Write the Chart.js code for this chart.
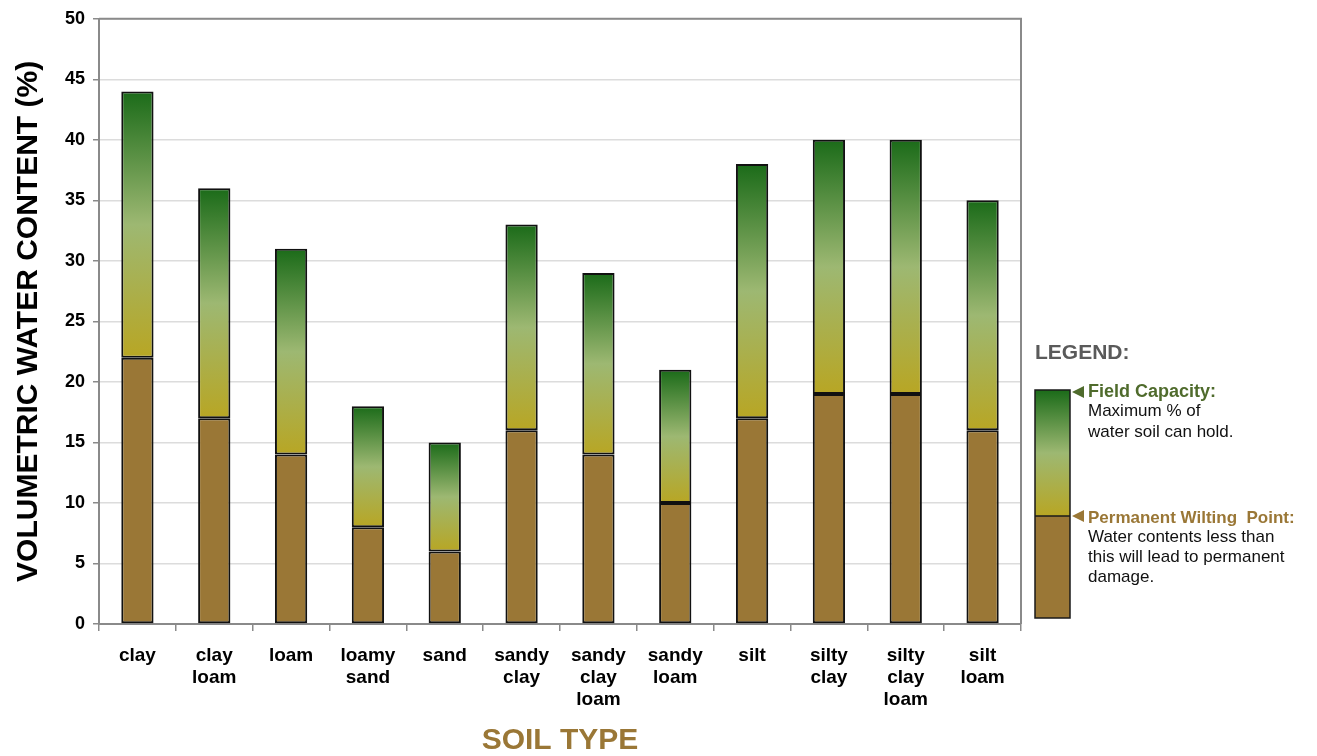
<!DOCTYPE html>
<html>
<head>
<meta charset="utf-8">
<script src="https://cdn.jsdelivr.net/npm/chart.js@4"></script>
<style>
  html, body { margin: 0; padding: 0; background: #fff; }
  #wrap { width: 1317px; height: 756px; position: relative; }
</style>
</head>
<body>
<div id="wrap"><canvas id="c" width="1317" height="756"></canvas></div>
<script>
// Soil types along the x axis (multi-line labels)
const soilTypes = [
  ['clay'], ['clay', 'loam'], ['loam'], ['loamy', 'sand'], ['sand'],
  ['sandy', 'clay'], ['sandy', 'clay', 'loam'], ['sandy', 'loam'],
  ['silt'], ['silty', 'clay'], ['silty', 'clay', 'loam'], ['silt', 'loam']
];
// Volumetric water content (%) at the permanent wilting point
const wiltingPoint = [22, 17, 14, 8, 6, 16, 14, 10, 17, 19, 19, 16];
// Volumetric water content (%) at field capacity
const fieldCapacity = [44, 36, 31, 18, 15, 33, 29, 21, 38, 40, 40, 35];
// Available water = field capacity minus wilting point (stacked on top)
const availableWater = fieldCapacity.map((fc, i) => fc - wiltingPoint[i]);

const yTicks = [0, 5, 10, 15, 20, 25, 30, 35, 40, 45, 50];

const BROWN = '#9a7736';
const FONT = "'Liberation Sans', Arial, sans-serif";

function waterGradient(ctx2d, bottom, top) {
  const g = ctx2d.createLinearGradient(0, bottom, 0, top);
  g.addColorStop(0, '#b8a624');
  g.addColorStop(0.5, '#9db872');
  g.addColorStop(1, '#1b6b19');
  return g;
}

// Draws the frame around the plot and the custom legend on the right
const decorations = {
  id: 'decorations',
  afterDraw(chart) {
    const { ctx, chartArea: a } = chart;
    ctx.save();
    // top and right frame lines
    ctx.strokeStyle = '#8a8a8a';
    ctx.lineWidth = 2;
    ctx.beginPath();
    ctx.moveTo(a.left, a.top);
    ctx.lineTo(a.right, a.top);
    ctx.lineTo(a.right, a.bottom);
    ctx.stroke();

    // legend heading
    ctx.fillStyle = '#5a5a5a';
    ctx.font = `bold 21px ${FONT}`;
    ctx.textBaseline = 'middle';
    ctx.textAlign = 'left';
    ctx.fillText('LEGEND:', 1035, 353);

    // legend bar
    const bx = 1035, bw = 35, bTop = 390, bMid = 516, bBot = 618;
    ctx.fillStyle = BROWN;
    ctx.fillRect(bx, bMid, bw, bBot - bMid);
    ctx.fillStyle = waterGradient(ctx, bMid, bTop);
    ctx.fillRect(bx, bTop, bw, bMid - bTop);
    ctx.strokeStyle = '#1a1a1a';
    ctx.lineWidth = 1.5;
    ctx.strokeRect(bx, bTop, bw, bBot - bTop);
    ctx.beginPath();
    ctx.moveTo(bx, bMid);
    ctx.lineTo(bx + bw, bMid);
    ctx.stroke();

    // pointer triangles
    function tri(y, color) {
      ctx.fillStyle = color;
      ctx.beginPath();
      ctx.moveTo(1072, y);
      ctx.lineTo(1084, y - 6);
      ctx.lineTo(1084, y + 6);
      ctx.closePath();
      ctx.fill();
    }
    tri(392, '#4f6b2c');
    tri(516, BROWN);

    // legend texts
    ctx.font = `bold 18px ${FONT}`;
    ctx.fillStyle = '#4f6b2c';
    ctx.fillText('Field Capacity:', 1088, 392);
    ctx.font = `bold 17px ${FONT}`;
    ctx.fillStyle = BROWN;
    ctx.fillText('Permanent Wilting  Point:', 1088, 518);

    ctx.font = `17px ${FONT}`;
    ctx.fillStyle = '#111';
    ctx.fillText('Maximum % of', 1088, 411);
    ctx.fillText('water soil can hold.', 1088, 432);
    ctx.fillText('Water contents less than', 1088, 537);
    ctx.fillText('this will lead to permanent', 1088, 557);
    ctx.fillText('damage.', 1088, 577);
    ctx.restore();
  }
};

new Chart(document.getElementById('c'), {
  type: 'bar',
  data: {
    labels: soilTypes,
    datasets: [
      {
        label: 'Permanent Wilting Point',
        data: wiltingPoint,
        backgroundColor: BROWN,
        borderColor: '#111',
        borderWidth: 2,
        borderSkipped: false
      },
      {
        label: 'Field Capacity',
        data: availableWater,
        backgroundColor: (c) => {
          const chart = c.chart;
          const y = chart.scales && chart.scales.y;
          if (c.type !== 'data' || !y || !chart.chartArea) return '#9db872';
          const i = c.dataIndex;
          return waterGradient(chart.ctx,
            y.getPixelForValue(wiltingPoint[i]),
            y.getPixelForValue(fieldCapacity[i]));
        },
        borderColor: '#111',
        borderWidth: 2,
        borderSkipped: false
      }
    ]
  },
  options: {
    responsive: false,
    animation: false,
    devicePixelRatio: 1,
    layout: { padding: { top: 17, right: 296, left: 0, bottom: 0 } },
    datasets: { bar: { barPercentage: 0.42, categoryPercentage: 1 } },
    plugins: {
      legend: { display: false },
      tooltip: { enabled: false }
    },
    scales: {
      x: {
        stacked: true,
        offset: true,
        border: { color: '#8a8a8a', width: 2 },
        grid: { offset: true, drawOnChartArea: false, color: '#8a8a8a', tickLength: 7, lineWidth: 1.5 },
        ticks: {
          color: '#000',
          font: { family: FONT, size: 19, weight: 'bold', lineHeight: 1.15 },
          padding: 14,
          maxRotation: 0,
          autoSkip: false
        },
        title: {
          display: true,
          text: 'SOIL TYPE',
          color: BROWN,
          font: { family: FONT, size: 30, weight: 'bold', lineHeight: 1.0 },
          padding: { top: 0, bottom: 0 }
        },
        afterFit(s) { s.height = 132; }
      },
      y: {
        stacked: true,
        min: 0,
        max: 50,
        afterBuildTicks(s) { s.ticks = yTicks.map(v => ({ value: v })); },
        border: { color: '#8a8a8a', width: 2 },
        grid: { color: '#dcdcdc', lineWidth: 1.5, tickColor: '#8a8a8a', tickLength: 6 },
        ticks: {
          color: '#000',
          font: { family: FONT, size: 18, weight: 'bold' },
          padding: 8
        },
        title: {
          display: true,
          text: 'VOLUMETRIC WATER CONTENT (%)',
          color: '#000',
          font: { family: FONT, size: 30, weight: 'bold', lineHeight: 1.2 },
          padding: { top: 11, bottom: 0 }
        },
        afterFit(s) { s.width = 99; }
      }
    }
  },
  plugins: [decorations]
});
</script>
</body>
</html>
